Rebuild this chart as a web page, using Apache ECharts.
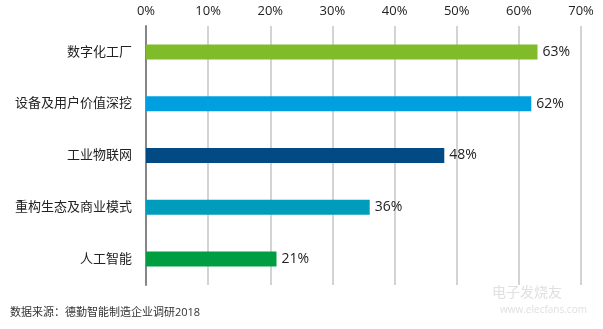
<!DOCTYPE html>
<html>
<head>
<meta charset="utf-8">
<script src="https://cdn.jsdelivr.net/npm/echarts@6/dist/echarts.min.js"></script>
<style>
html,body{margin:0;padding:0;background:#fff;}
#c{width:603px;height:329px;}
</style>
</head>
<body>
<div id="c"></div>
<script>
var categories = ['数字化工厂', '设备及用户价值深挖', '工业物联网', '重构生态及商业模式', '人工智能'];
var values = [63, 62, 48, 36, 21];
var barColors = ['#80bc2a', '#00a0e0', '#014a84', '#009cbb', '#009e40'];
var tickValues = [0, 10, 20, 30, 40, 50, 60, 70];
var sourceText = '数据来源：德勤智能制造企业调研2018';

var chart = echarts.init(document.getElementById('c'), null, {renderer: 'canvas'});
var font = '"Open Sans", "Noto Sans CJK SC", sans-serif';
chart.setOption({
  animation: false,
  backgroundColor: '#ffffff',
  grid: {left: 146, right: 22, top: 26, height: 259, containLabel: false},
  xAxis: {
    type: 'value',
    position: 'top',
    min: tickValues[0],
    max: tickValues[tickValues.length - 1],
    interval: 10,
    axisLine: {show: false},
    axisTick: {show: false},
    axisLabel: {
      formatter: '{value}%',
      color: '#222',
      fontSize: 13,
      fontFamily: font,
      margin: 8
    },
    splitLine: {show: true, lineStyle: {color: '#c4c4c4', width: 1.5}}
  },
  yAxis: {
    type: 'category',
    inverse: true,
    data: categories,
    axisLine: {show: true, lineStyle: {color: '#85858a', width: 2}},
    axisTick: {show: false},
    axisLabel: {color: '#222', fontSize: 13, fontFamily: font, margin: 14}
  },
  series: [{
    type: 'bar',
    data: values.map(function (v, i) {
      return {value: v, itemStyle: {color: barColors[i]}};
    }),
    barWidth: 15,
    label: {
      show: true,
      position: 'right',
      distance: 5,
      formatter: '{c}%',
      color: '#222',
      fontSize: 14,
      fontFamily: font
    }
  }],
  graphic: [
    {type: 'text', left: 10, top: 307, style: {text: sourceText, fill: '#333', fontSize: 11, fontFamily: font}},
    {type: 'text', left: 492, top: 286, style: {text: '电子发烧友', fill: '#e0e0e0', fontSize: 14, fontFamily: font}},
    {type: 'text', left: 500, top: 305, style: {text: 'www.elecfans.com', fill: '#e0e0e0', fontSize: 10, fontFamily: font}}
  ]
});
</script>
</body>
</html>
